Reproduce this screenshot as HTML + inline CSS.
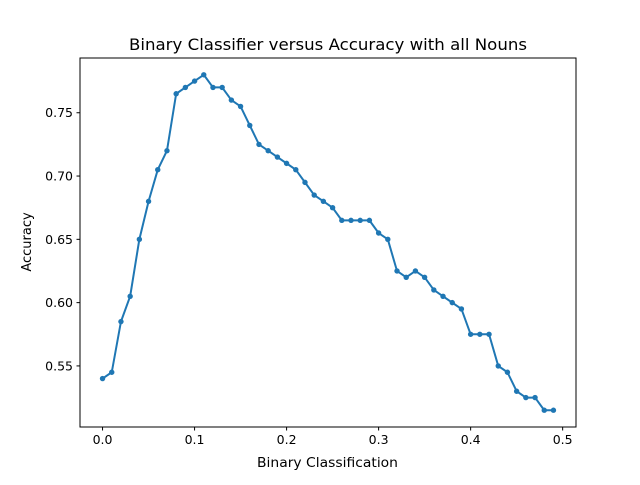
<!DOCTYPE html>
<html><head><meta charset="utf-8"><style>
body{margin:0;background:#fff;}
svg{font-family:"DejaVu Sans","Liberation Sans",sans-serif;}
</style></head><body>
<svg id="chart" width="640" height="480" xmlns="http://www.w3.org/2000/svg">
<rect width="640" height="480" fill="#fff"/>
<text x="129" y="50" font-size="16" textLength="398" lengthAdjust="spacingAndGlyphs">Binary Classifier versus Accuracy with all Nouns</text>
<text x="257" y="467" font-size="13" textLength="141" lengthAdjust="spacingAndGlyphs">Binary Classification</text>
<text transform="translate(31,242) rotate(-90)" font-size="13" text-anchor="middle">Accuracy</text>
<g id="ticks"></g>
<g id="series"></g>
<rect x="80" y="58" width="496" height="369" fill="none" stroke="#000" stroke-width="1"/>
</svg>
<script>
const xValues=[0,0.01,0.02,0.03,0.04,0.05,0.06,0.07,0.08,0.09,0.10,0.11,0.12,0.13,0.14,0.15,0.16,0.17,0.18,0.19,0.20,0.21,0.22,0.23,0.24,0.25,0.26,0.27,0.28,0.29,0.30,0.31,0.32,0.33,0.34,0.35,0.36,0.37,0.38,0.39,0.40,0.41,0.42,0.43,0.44,0.45,0.46,0.47,0.48,0.49];
const accuracy=[0.54,0.545,0.585,0.605,0.65,0.68,0.705,0.72,0.765,0.77,0.775,0.78,0.77,0.77,0.76,0.755,0.74,0.725,0.72,0.715,0.71,0.705,0.695,0.685,0.68,0.675,0.665,0.665,0.665,0.665,0.655,0.65,0.625,0.62,0.625,0.62,0.61,0.605,0.6,0.595,0.575,0.575,0.575,0.55,0.545,0.53,0.525,0.525,0.515,0.515];
const xTicks=[0.0,0.1,0.2,0.3,0.4,0.5];
const xTickLabels=["0.0","0.1","0.2","0.3","0.4","0.5"];
const yTicks=[0.55,0.60,0.65,0.70,0.75];
const yTickLabels=["0.55","0.60","0.65","0.70","0.75"];

const NS="http://www.w3.org/2000/svg";
const L=80,R=576,T=58,B=427;
const xmin=-0.0245,xmax=0.5145,ymin=0.50175,ymax=0.79325;
function sx(v){return L+(v-xmin)/(xmax-xmin)*(R-L);}
function sy(v){return B-(v-ymin)/(ymax-ymin)*(B-T);}
function mk(tag,attrs,parent){const e=document.createElementNS(NS,tag);for(const k in attrs)e.setAttribute(k,attrs[k]);parent.appendChild(e);return e;}
const tg=document.getElementById('ticks');
xTicks.forEach((v,i)=>{
  const x=sx(v);
  const l=mk('line',{x1:x,x2:x,y1:B,y2:B+3.5,stroke:'#000'},tg);
  
  
  const t=mk('text',{x:x,y:B+17,'font-size':12.5,'text-anchor':'middle'},tg);
  t.textContent=xTickLabels[i];
  
  
});
yTicks.forEach((v,i)=>{
  const y=sy(v);
  const l=mk('line',{x1:L-3.5,x2:L,y1:y,y2:y,stroke:'#000'},tg);
  
  
  const t=mk('text',{x:L-7,y:y+4.5,'font-size':12.5,'text-anchor':'end'},tg);
  t.textContent=yTickLabels[i];
  
  
});
const sg=document.getElementById('series');
const pts=xValues.map((v,i)=>sx(v).toFixed(2)+','+sy(accuracy[i]).toFixed(2)).join(' ');
const pl=mk('polyline',{points:pts,fill:'none',stroke:'#1f77b4','stroke-width':2,'stroke-linejoin':'round'},sg);


xValues.forEach((v,i)=>{
  const c=mk('circle',{cx:sx(v),cy:sy(accuracy[i]),r:2.7,fill:'#1f77b4'},sg);
  
  
});
</script>
</body></html>
